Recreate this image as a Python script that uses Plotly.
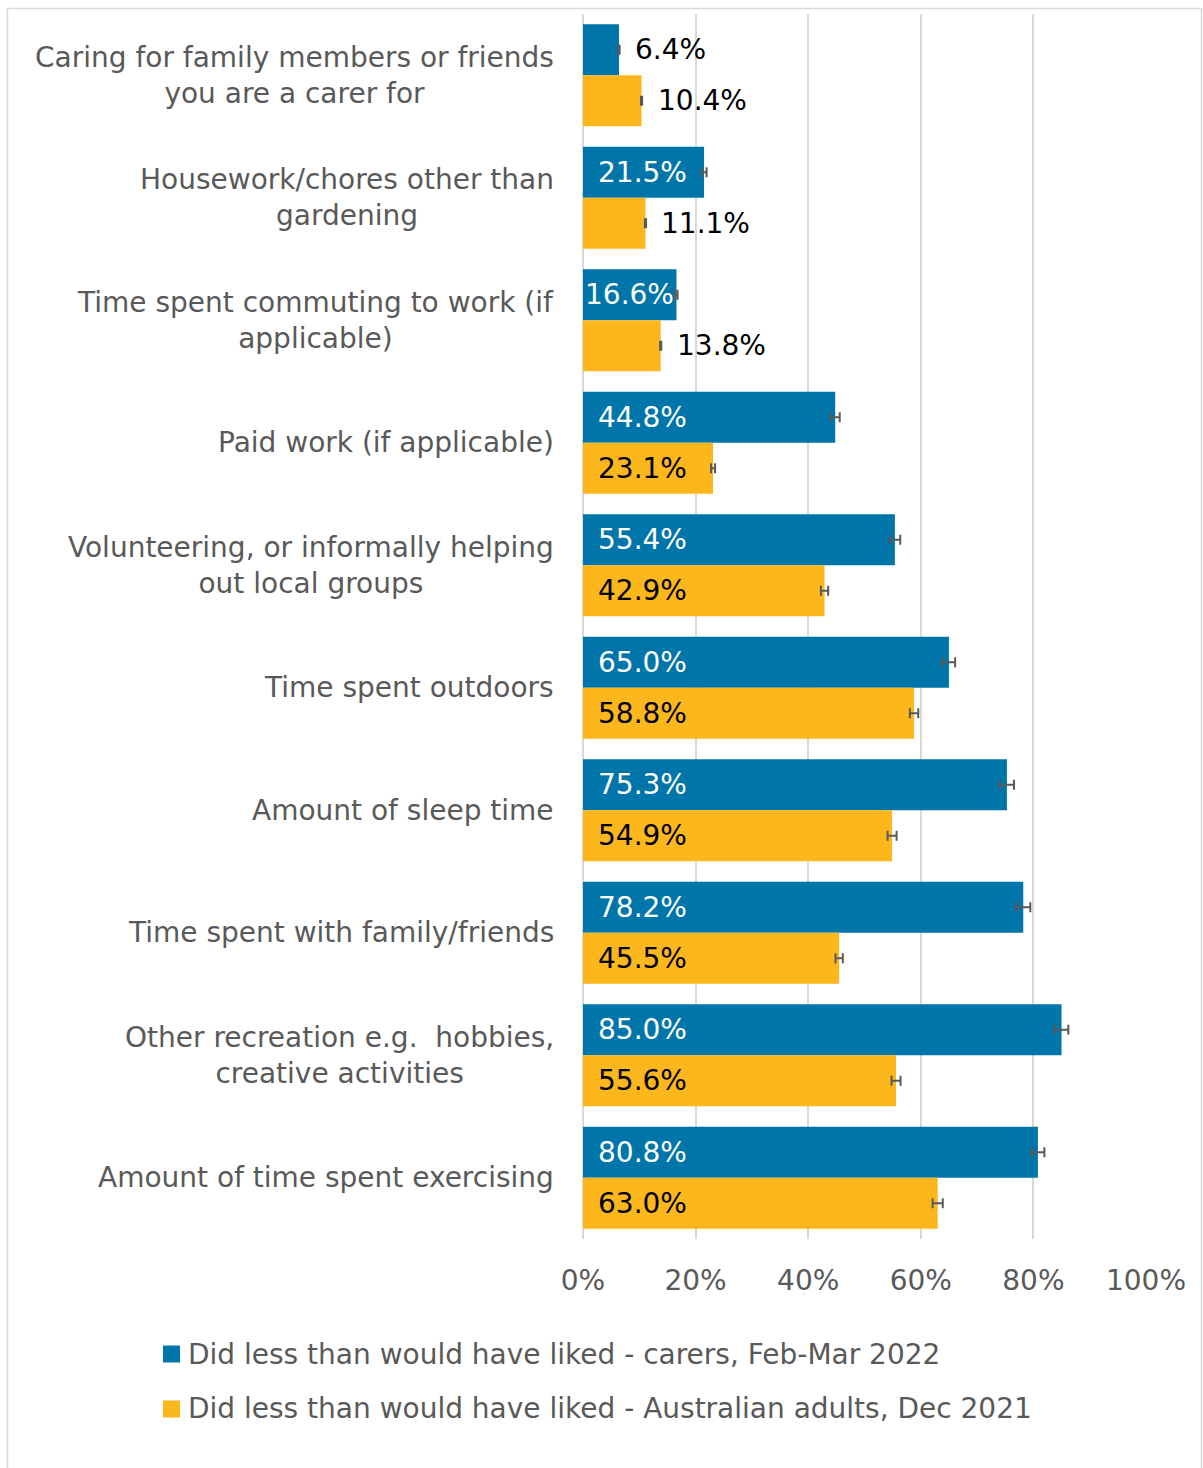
import plotly.graph_objects as go

# Survey activities (display labels, line breaks where the label wraps)
categories = [
    "Caring for family members or friends<br>you are a carer for",
    "Housework/chores other than<br>gardening",
    "Time spent commuting to work (if<br>applicable)",
    "Paid work (if applicable)",
    "Volunteering, or informally helping<br>out local groups",
    "Time spent outdoors",
    "Amount of sleep time",
    "Time spent with family/friends",
    "Other recreation e.g.\u00a0 hobbies,<br>creative activities",
    "Amount of time spent exercising",
]

series_names = [
    "Did less than would have liked - carers, Feb-Mar 2022",
    "Did less than would have liked - Australian adults, Dec 2021",
]

# Percentage who did less than they would have liked
carers = [6.4, 21.5, 16.6, 44.8, 55.4, 65.0, 75.3, 78.2, 85.0, 80.8]
adults = [10.4, 11.1, 13.8, 23.1, 42.9, 58.8, 54.9, 45.5, 55.6, 63.0]

# Margin of error (percentage points)
carers_err = [0.1, 0.45, 0.2, 0.8, 0.95, 1.1, 1.25, 1.25, 1.2, 1.15]
adults_err = [0.1, 0.1, 0.1, 0.35, 0.65, 0.75, 0.8, 0.65, 0.8, 0.9]

x_ticks = [0, 20, 40, 60, 80, 100]
x_tick_labels = [f"{t}%" for t in x_ticks]

BLUE = "#0075A9"
YELLOW = "#FBB71C"
GREY_TEXT = "#595959"
GRID = "#D9D9D9"
FONT = "DejaVu Sans"
FS = 28

W, H = 1203, 1468
ML, MR, MT, MB = 583, 57, 14, 229
PW, PH = W - ML - MR, H - MT - MB
BARGAP = 0.168


def px2x(px):
    return (px - ML) / PW


def py2y(py):
    return (H - MB - py) / PH


fig = go.Figure()
for vals, errs, color, name in [
    (carers, carers_err, BLUE, series_names[0]),
    (adults, adults_err, YELLOW, series_names[1]),
]:
    fig.add_trace(go.Bar(
        y=categories, x=vals, orientation="h", name=name,
        marker=dict(color=color, line=dict(width=0)),
        error_x=dict(type="data", array=errs, visible=True,
                     color=GREY_TEXT, thickness=2, width=5),
        showlegend=False, hoverinfo="x+y",
    ))

annotations = []

# Data labels: each bar centre sits a quarter of the group height from the category centre
bar_offset = PH / len(categories) * (1 - BARGAP) / 4
for vals, yshift, inside_color in [(carers, bar_offset, "white"), (adults, -bar_offset, "black")]:
    for cat, v in zip(categories, vals):
        txt = f"{v:.1f}%"
        if v < 15:
            a = dict(x=v, xanchor="left", xshift=14, font=dict(color="black"))
        elif v < 20:
            a = dict(x=v / 2, xanchor="center", xshift=0, font=dict(color=inside_color))
        else:
            a = dict(x=0, xanchor="left", xshift=13, font=dict(color=inside_color))
        a["font"].update(family=FONT, size=FS)
        annotations.append(dict(
            xref="x", yref="y", y=cat, yanchor="middle", yshift=yshift,
            text=txt, showarrow=False, **a,
        ))

# Category labels, right-aligned block with centred lines
for cat in categories:
    annotations.append(dict(
        xref="x", yref="y", x=0, y=cat, xanchor="right", yanchor="middle",
        xshift=-27, text=cat, align="center", showarrow=False,
        font=dict(family=FONT, size=FS, color=GREY_TEXT),
    ))

# Legend
shapes = []
for i, (name, color) in enumerate(zip(series_names, [BLUE, YELLOW])):
    cy = 1354 + i * 55
    shapes.append(dict(
        type="rect", xref="paper", yref="paper",
        x0=px2x(163), x1=px2x(180), y0=py2y(cy + 8.5), y1=py2y(cy - 8.5),
        fillcolor=color, line=dict(width=0),
    ))
    annotations.append(dict(
        xref="paper", yref="paper", x=px2x(186), y=py2y(cy),
        xanchor="left", yanchor="middle", text=name, showarrow=False,
        font=dict(family=FONT, size=FS, color=GREY_TEXT),
    ))

# Chart border
shapes.append(dict(
    type="rect", xref="paper", yref="paper",
    x0=px2x(7.5), x1=px2x(1201.5), y0=py2y(1490), y1=py2y(8.5),
    line=dict(color=GRID, width=1.5), fillcolor="rgba(0,0,0,0)",
))

fig.update_layout(
    width=W, height=H,
    margin=dict(l=ML, r=MR, t=MT, b=MB),
    paper_bgcolor="white", plot_bgcolor="white",
    barmode="group", bargap=BARGAP, bargroupgap=0,
    font=dict(family=FONT, size=FS, color=GREY_TEXT),
    annotations=annotations, shapes=shapes,
    xaxis=dict(
        range=[0, 100], tickmode="array", tickvals=x_ticks, ticktext=x_tick_labels,
        showgrid=True, gridcolor=GRID, gridwidth=1.5,
        zeroline=True, zerolinecolor=GRID, zerolinewidth=1.5,
        showline=False, ticks="", ticklabelstandoff=22,
        tickfont=dict(family=FONT, size=FS, color=GREY_TEXT),
    ),
    yaxis=dict(
        categoryorder="array", categoryarray=categories,
        autorange="reversed", showticklabels=False, showgrid=False,
        zeroline=False, ticks="",
    ),
)

fig.write_html("out.html")
